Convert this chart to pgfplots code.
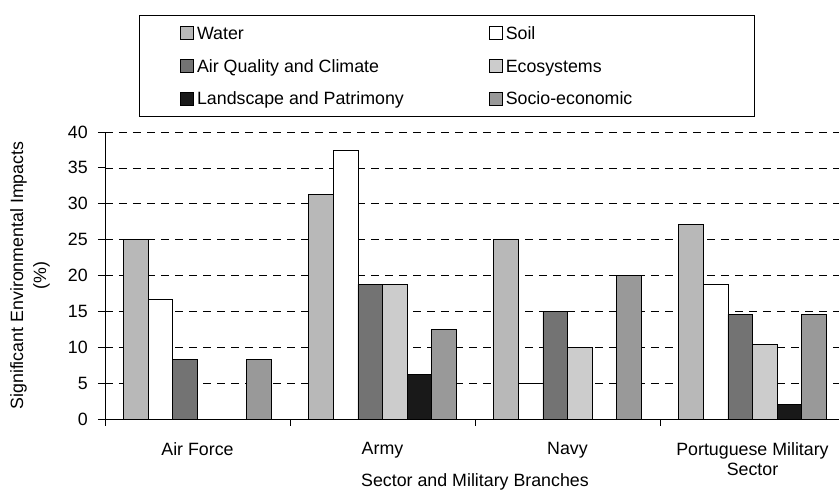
\documentclass[border=0pt]{standalone}
\usepackage{pgfplots}
\pgfplotsset{compat=1.18}
\usepackage{fontspec}
\setmainfont{Liberation Sans}

\begin{document}
\fontsize{17.8}{20.5}\selectfont
\begin{tikzpicture}[font=\fontsize{17.8}{20.5}\selectfont]
\path[use as bounding box] (0,0) rectangle (839pt,492pt);
\clip (0,0) rectangle (839pt,492pt);
\begin{axis}[
  at={(105pt,73pt)}, anchor=south west,
  scale only axis, width=740pt, height=287pt,
  ybar=0pt, bar width=24.6pt,
  xmin=-0.5, xmax=3.5, ymin=0, ymax=40,
  axis x line*=bottom, axis y line*=left,
  xtick={-0.5,0.5,1.5,2.5,3.5},
  x tick label as interval,
  xticklabels={Air Force,Army,Navy,{Portuguese Military\\Sector}},
  xticklabel style={align=center, anchor=north, inner sep=0pt, yshift=-16pt},
  ytick={0,5,...,40},
  yticklabel style={anchor=east, inner sep=0pt, xshift=-10pt},
  /pgf/number format/assume math mode=true,
  ymajorgrids,
  grid style={black, dash pattern=on 8pt off 6pt, line width=0.6pt},
  tick align=outside, major tick length=7pt,
  tick style={black, line width=0.8pt},
  axis line style={black, line width=0.8pt},
  xlabel={Sector and Military Branches},
  xlabel style={at={(axis description cs:0.5,0)}, anchor=base, yshift=-68pt},
  ylabel={Significant Environmental Impacts\\(\%)},
  ylabel style={at={(axis description cs:0,0.5)}, anchor=north, inner sep=0pt,
    yshift=95pt, align=center, font=\fontsize{17.8}{23}\selectfont},
  legend columns=2,
  legend style={at={(axis description cs:0.0459,1.4077)}, anchor=north west,
    draw=black, line width=0.8pt, inner xsep=41pt, inner ysep=11pt, row sep=19pt,
    nodes={inner sep=0pt, text height=12.8pt, text depth=0pt, anchor=west}},
  legend image code/.code={\draw[#1, line width=0.6pt] (0pt,-6.5pt) rectangle (13pt,6.5pt); \path (16pt,0pt);},
  every axis plot/.append style={draw=black, line width=0.8pt},
]
% Water
\addplot[fill=black!28] coordinates {(0,25) (1,31.25) (2,25) (3,27.08)};
\addlegendentry{\makebox[292pt][l]{Water}}
% Soil
\addplot[fill=white] coordinates {(0,16.67) (1,37.5) (2,5) (3,18.75)};
\addlegendentry{\makebox[208pt][l]{Soil}}
% Air Quality and Climate
\addplot[fill=black!55] coordinates {(0,8.33) (1,18.75) (2,15) (3,14.58)};
\addlegendentry{\makebox[292pt][l]{Air Quality and Climate}}
% Ecosystems
\addplot[fill=black!20] coordinates {(1,18.75) (2,10) (3,10.42)};
\addlegendentry{\makebox[208pt][l]{Ecosystems}}
% Landscape and Patrimony
\addplot[fill=black!90] coordinates {(1,6.25) (3,2.08)};
\addlegendentry{\makebox[292pt][l]{Landscape and Patrimony}}
% Socio-economic
\addplot[fill=black!40] coordinates {(0,8.33) (1,12.5) (2,20) (3,14.58)};
\addlegendentry{\makebox[208pt][l]{Socio-economic}}
\end{axis}
\end{tikzpicture}
\end{document}
